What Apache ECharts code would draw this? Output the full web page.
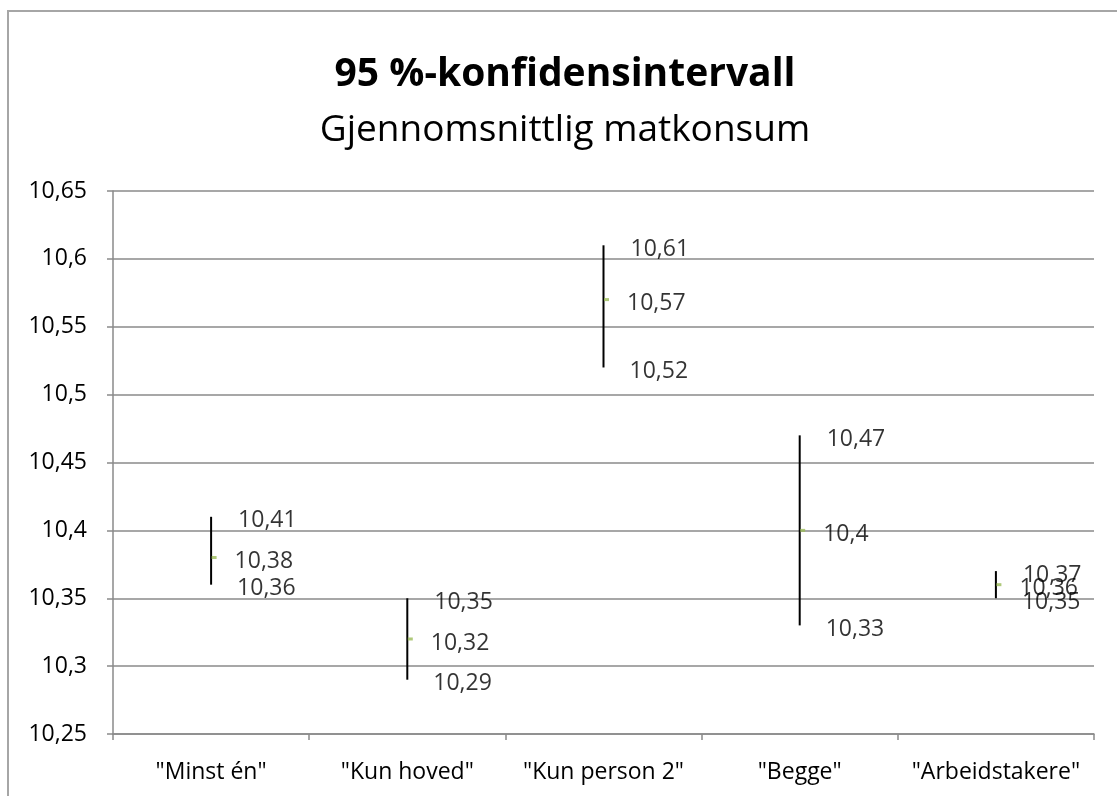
<!DOCTYPE html>
<html>
<head>
<meta charset="utf-8">
<script src="https://cdn.jsdelivr.net/npm/echarts@6/dist/echarts.min.js"></script>
<style>
html,body{margin:0;padding:0;background:#fff;}
#chart{width:1117px;height:796px;}
</style>
</head>
<body>
<div id="chart"></div>
<script>
const categories = ['"Minst én"', '"Kun hoved"', '"Kun person 2"', '"Begge"', '"Arbeidstakere"'];
const highValues = [10.41, 10.35, 10.61, 10.47, 10.37];
const meanValues = [10.38, 10.32, 10.57, 10.40, 10.36];
const lowValues  = [10.36, 10.29, 10.52, 10.33, 10.35];
const yMin = 10.25, yMax = 10.65, yStep = 0.05;

const FONT = '"Open Sans", sans-serif';
const fmt = v => String(+(+v).toFixed(2)).replace('.', ',');

const chart = echarts.init(document.getElementById('chart'));
const labelBase = {
  show: true, position: 'right', color: '#000', fontFamily: FONT, fontSize: 23,
  formatter: p => fmt(p.value[1])
};
chart.setOption({
  animation: false,
  backgroundColor: '#fff',
  graphic: [{
    type: 'rect', silent: true, z: -1,
    shape: {x: 8, y: 11, width: 1300, height: 1000},
    style: {fill: 'none', stroke: '#a6a6a6', lineWidth: 2}
  }],
  title: {
    text: '95 %-konfidensintervall',
    subtext: 'Gjennomsnittlig matkonsum',
    left: 560, textAlign: 'center', top: 50, itemGap: 18,
    textStyle: {fontFamily: FONT, fontWeight: 'bold', fontSize: 39, color: '#000'},
    subtextStyle: {fontFamily: FONT, fontSize: 37, color: '#000'}
  },
  grid: {left: 113, right: 23, top: 191, bottom: 62, containLabel: false},
  xAxis: {
    type: 'category', data: categories, boundaryGap: true,
    axisLine: {lineStyle: {color: '#8a8a8a', width: 1.5}},
    axisTick: {show: true, interval: 0, length: 6, lineStyle: {color: '#8a8a8a', width: 1.5}},
    axisLabel: {color: '#000', fontFamily: FONT, fontSize: 23, margin: 27, interval: 0, hideOverlap: false}
  },
  yAxis: {
    type: 'value', min: yMin, max: yMax, interval: yStep,
    axisLine: {show: true, lineStyle: {color: '#8a8a8a', width: 1.5}},
    axisTick: {show: true, length: 6, lineStyle: {color: '#8a8a8a', width: 1.5}},
    axisLabel: {color: '#000', fontFamily: FONT, fontSize: 23, margin: 26, formatter: fmt},
    splitLine: {show: true, lineStyle: {color: '#8a8a8a', width: 1.5}}
  },
  series: [
    {
      type: 'custom', z: 3,
      data: categories.map((c, i) => [i, lowValues[i], highValues[i]]),
      renderItem: (params, api) => {
        const lo = api.coord([api.value(0), api.value(1)]);
        const hi = api.coord([api.value(0), api.value(2)]);
        return {type: 'line', shape: {x1: lo[0], y1: lo[1], x2: hi[0], y2: hi[1]},
                style: {stroke: '#000', lineWidth: 2}};
      }
    },
    {
      type: 'scatter', z: 4, symbol: 'rect', symbolSize: [5, 3], symbolOffset: [3, 0],
      itemStyle: {color: '#9bbb59'},
      data: categories.map((c, i) => [i, meanValues[i]]),
      label: Object.assign({}, labelBase, {distance: 18, offset: [0, 4]})
    },
    {
      type: 'scatter', z: 4, symbolSize: 0,
      data: categories.map((c, i) => [i, highValues[i]]),
      label: Object.assign({}, labelBase, {distance: 27, offset: [0, 4]})
    },
    {
      type: 'scatter', z: 4, symbolSize: 0,
      data: categories.map((c, i) => [i, lowValues[i]]),
      label: Object.assign({}, labelBase, {distance: 26, offset: [0, 4]})
    }
  ]
});
</script>
</body>
</html>
